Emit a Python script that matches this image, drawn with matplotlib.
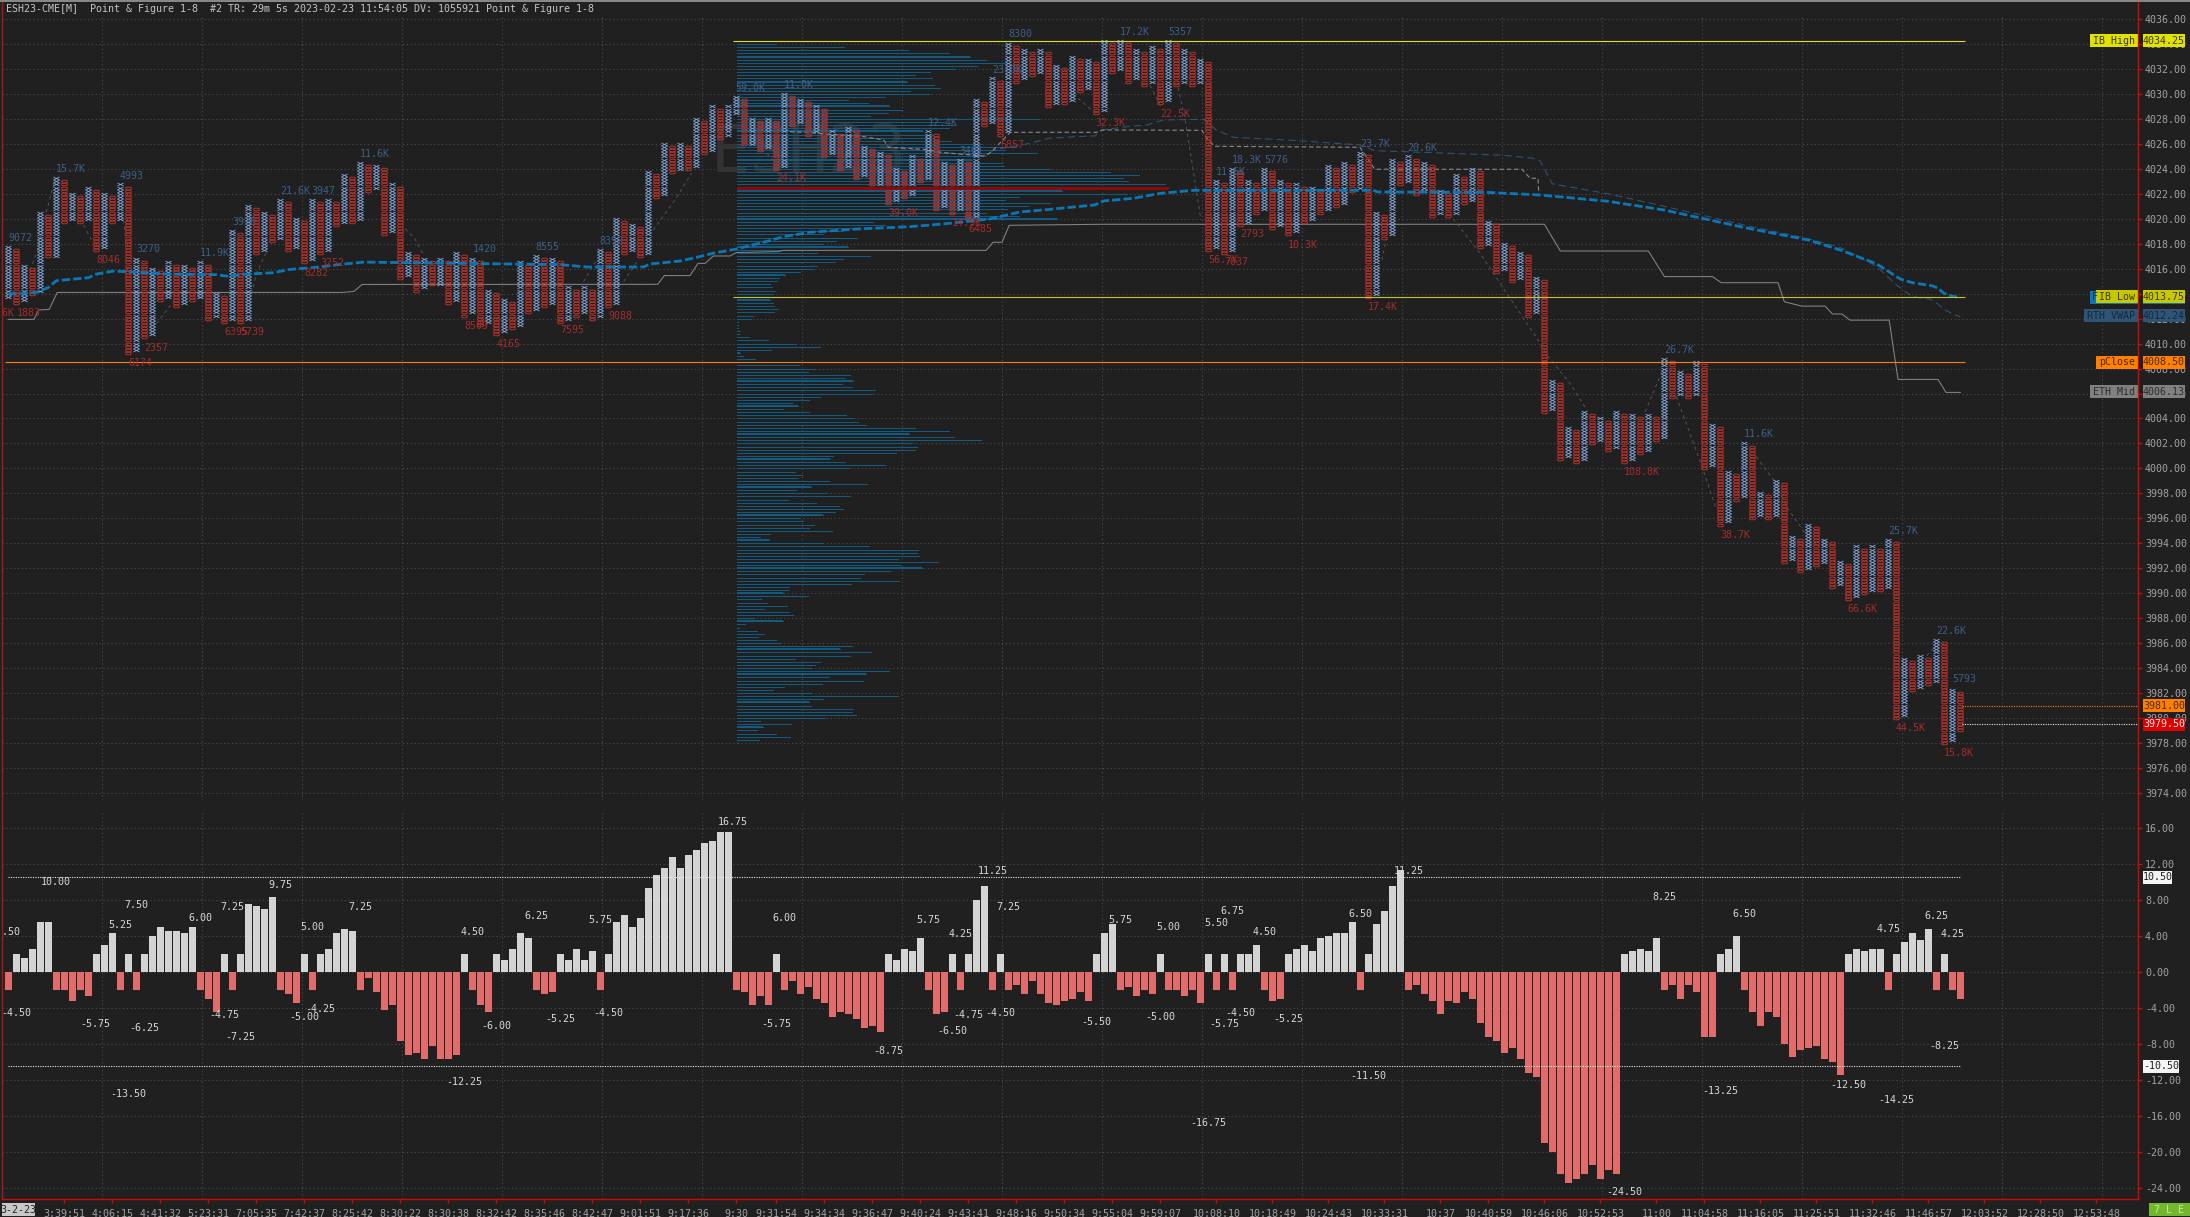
import numpy as np
import matplotlib
matplotlib.use("Agg")
import matplotlib.pyplot as plt
from matplotlib.lines import Line2D
from matplotlib.patches import Rectangle
from matplotlib.path import Path

W, H = 2190, 1217
BG = "#202020"
GRID = "#4c4c4c"
AXIS_RED = "#d00808"

pf_top = [
    4017.75, 4017.5, 4016.25, 4016.0, 4020.5, 4020.25, 4023.25, 4023.0, 4022.0, 4021.75,
    4022.5, 4022.25, 4022.0, 4021.75, 4022.75, 4022.5, 4016.75, 4016.5, 4016.0, 4015.75,
    4016.5, 4016.25, 4016.25, 4016.0, 4016.5, 4016.25, 4014.0, 4013.75, 4019.0, 4018.75,
    4021.0, 4020.75, 4020.5, 4020.25, 4021.5, 4021.25, 4020.0, 4019.75, 4021.5, 4021.25,
    4021.5, 4021.25, 4023.5, 4023.25, 4024.5, 4024.25, 4024.25, 4024.0, 4022.75, 4022.5,
    4017.25, 4017.0, 4016.75, 4016.5, 4016.75, 4016.5, 4017.25, 4017.0, 4016.75, 4016.5,
    4014.25, 4014.0, 4013.5, 4013.25, 4016.5, 4016.25, 4017.0, 4016.75, 4016.75, 4016.5,
    4014.5, 4014.25, 4014.5, 4014.25, 4017.5, 4017.25, 4020.0, 4019.75, 4019.5, 4019.25,
    4023.75, 4023.5, 4026.0, 4025.75, 4026.0, 4025.75, 4028.0, 4027.75, 4029.0, 4028.75,
    4029.0, 4029.75, 4029.5, 4028.0, 4027.75, 4028.0, 4027.75, 4030.0, 4029.75, 4029.5,
    4029.25, 4029.0, 4028.75, 4027.0, 4026.75, 4027.25, 4027.0, 4025.75, 4025.5, 4025.25,
    4025.0, 4024.0, 4023.75, 4025.0, 4024.75, 4027.0, 4026.75, 4024.5, 4024.25, 4024.75,
    4024.5, 4029.5, 4029.25, 4031.25, 4031.0, 4034.0, 4033.75, 4033.5, 4033.25, 4033.5,
    4033.25, 4032.25, 4032.0, 4033.0, 4032.75, 4032.75, 4032.5, 4034.25, 4034.0, 4034.25,
    4034.0, 4033.5, 4033.25, 4033.75, 4033.5, 4034.25, 4034.0, 4033.5, 4033.25, 4032.75,
    4032.5, 4023.0, 4022.75, 4024.0, 4023.75, 4023.0, 4022.75, 4024.0, 4023.75, 4023.0,
    4022.75, 4022.75, 4022.5, 4022.5, 4022.25, 4024.25, 4024.0, 4024.5, 4024.25, 4025.25,
    4025.0, 4020.5, 4020.25, 4024.75, 4024.5, 4025.0, 4024.75, 4024.5, 4024.25, 4022.25,
    4022.0, 4023.5, 4023.25, 4024.0, 4023.75, 4019.75, 4019.5, 4018.0, 4017.75, 4017.25,
    4017.0, 4015.25, 4015.0, 4007.0, 4006.75, 4003.25, 4003.0, 4004.5, 4004.25, 4004.0,
    4003.75, 4004.5, 4004.25, 4004.25, 4004.0, 4004.25, 4004.0, 4008.75, 4008.5, 4007.75,
    4007.5, 4008.5, 4008.25, 4003.5, 4003.25, 3999.75, 3999.5, 4002.0, 4001.75, 3998.0,
    3997.75, 3999.0, 3998.75, 3994.5, 3994.25, 3995.5, 3995.25, 3994.25, 3994.0, 3992.5,
    3992.25, 3993.75, 3993.5, 3993.75, 3993.5, 3994.25, 3994.0, 3984.75, 3984.5, 3985.0,
    3984.75, 3986.25, 3986.0, 3982.25, 3982.0,
]
pf_bottom = [
    4013.75, 4013.25, 4013.5, 4014.0, 4014.25, 4017.0, 4017.0, 4019.75, 4020.0, 4019.75,
    4020.0, 4017.5, 4017.75, 4019.75, 4020.0, 4009.25, 4009.5, 4010.5, 4010.75, 4013.5,
    4013.75, 4013.0, 4013.25, 4013.5, 4013.75, 4012.0, 4012.25, 4011.75, 4012.0, 4011.75,
    4012.0, 4017.25, 4017.5, 4018.25, 4018.5, 4017.5, 4017.75, 4016.5, 4016.75, 4017.25,
    4017.5, 4019.5, 4019.75, 4019.75, 4020.0, 4022.25, 4022.5, 4018.75, 4019.0, 4015.25,
    4015.5, 4014.25, 4014.5, 4014.75, 4014.75, 4013.25, 4013.5, 4012.25, 4012.5, 4011.5,
    4011.75, 4010.75, 4011.0, 4011.25, 4011.5, 4012.5, 4012.75, 4013.0, 4013.25, 4011.75,
    4012.0, 4012.25, 4012.5, 4012.0, 4012.25, 4013.0, 4013.25, 4017.25, 4017.5, 4017.0,
    4017.25, 4021.75, 4022.0, 4023.75, 4024.0, 4024.0, 4024.25, 4025.25, 4025.5, 4026.5,
    4026.75, 4028.5, 4026.0, 4026.0, 4025.5, 4025.75, 4024.0, 4024.25, 4027.5, 4027.75,
    4026.75, 4027.0, 4025.0, 4025.25, 4024.0, 4024.25, 4023.25, 4023.5, 4022.5, 4022.75,
    4021.25, 4021.5, 4021.75, 4022.0, 4023.0, 4023.25, 4020.75, 4021.0, 4020.5, 4020.75,
    4020.0, 4020.25, 4027.5, 4027.75, 4026.75, 4027.0, 4031.0, 4031.25, 4031.5, 4031.75,
    4029.0, 4029.25, 4029.25, 4029.5, 4030.25, 4030.5, 4028.5, 4028.75, 4031.75, 4032.0,
    4031.0, 4031.25, 4030.75, 4031.0, 4029.25, 4029.5, 4030.75, 4031.0, 4030.75, 4031.0,
    4017.5, 4017.75, 4017.25, 4017.5, 4019.5, 4019.75, 4020.5, 4020.75, 4019.25, 4019.5,
    4018.75, 4019.0, 4019.75, 4020.0, 4020.5, 4020.75, 4021.0, 4021.25, 4022.25, 4022.5,
    4013.75, 4014.0, 4018.5, 4018.75, 4022.75, 4023.0, 4022.0, 4022.25, 4020.25, 4020.5,
    4020.25, 4020.5, 4021.25, 4021.5, 4017.75, 4018.0, 4015.75, 4016.0, 4015.0, 4015.25,
    4012.25, 4012.5, 4004.5, 4004.75, 4000.75, 4001.0, 4000.5, 4000.75, 4002.0, 4002.25,
    4001.5, 4001.75, 4000.5, 4000.75, 4001.25, 4001.5, 4002.25, 4002.5, 4005.75, 4006.0,
    4005.75, 4006.0, 4000.0, 4000.25, 3995.5, 3995.75, 3997.5, 3997.75, 3996.0, 3996.25,
    3996.0, 3996.25, 3992.5, 3992.75, 3991.75, 3992.0, 3992.25, 3992.5, 3990.5, 3990.75,
    3989.5, 3989.75, 3990.0, 3990.25, 3990.25, 3990.5, 3980.0, 3980.25, 3982.25, 3982.5,
    3982.75, 3983.0, 3978.0, 3978.25, 3979.0,
]

osc_values = [
    -2, 2, 1.5, 2.5, 5.5, 5.5, -2, -2, -3.25, -2, -2.75, 2, 3, 4.25, -2, 2, -2, 2, 4, 5,
    4.5, 4.5, 4.25, 5, -2, -3, -4.5, 2, -2, 2, 7.5, 7.25, 7, 8.25, -2, -2.5, -3.5, 2, -2, 2,
    2.5, 4.25, 4.75, 4.5, -2, -0.75, -2.25, -4.25, -3.75, -7.75, -9.25, -9, -9.75, -8.25, -9.75, -9.75, -9.25, 2, -2, -3.75,
    -4.5, 2, 1.25, 2.5, 4.25, 3.75, -2, -2.5, -2.25, 2, 1.25, 2.5, 1.25, 2.25, -2, 2, 5.5, 6.25, 5, 6,
    9.25, 10.75, 11.5, 12.75, 11.5, 13, 13.5, 14.25, 14.5, 15.5, 15.5, -2, -2.25, -3.75, -2.75, -3.75, 2, -2, -1, -2.5,
    -1.75, -3, -3.5, -5, -4.5, -4.75, -5.25, -6.25, -6, -6.75, 2, 1.25, 2.5, 2.25, 3.75, -2, -4.75, -4.5, 2, -2,
    2, 8, 9.5, -2, 2, -2, -1.5, -2.5, -1, -2.5, -3.5, -3.75, -3.25, -3, -2.25, -3.25, 2, 4.25, 5.25, -2,
    -1.75, -2.75, -2, -2.5, 2, -2, -2, -2.75, -2, -3.5, 2, -2, 2, -2, 2, 2, 3, -2, -3.25, -3,
    2, 2.5, 3, 2.25, 3.75, 4, 4.25, 4.25, 5.5, -2, 2, 5.25, 6.75, 9.5, 11.25, -2, -1.5, -2.5, -3.25, -4.75,
    -3.25, -3.5, -2.25, -3, -5.75, -7.25, -7.75, -9, -8.5, -9.75, -11.25, -11.75, -19, -20, -22.5, -23.5, -23, -22.5, -21.5, -23,
    -22, -22.5, 2, 2.25, 2.5, 2.25, 3.75, -2, -1.5, -3, -1.5, -2.25, -7.25, -7.25, 2, 2.5, 4, -2, -4.5, -6,
    -4.5, -5, -8, -9.5, -8.75, -8.5, -8.25, -9.75, -10, -11.5, 2, 2.5, 2.25, 2.5, 2.5, -2, 2, 3.25, 4.25, 3.5,
    4.75, -2, 2, -2, -3,
]
osc_limit = 10.5

osc_label_text = [
    "4.50", "-4.50", "10.00", "-5.75", "5.25", "7.50", "-6.25", "-13.50", "6.00", "7.25",
    "-4.75", "-7.25", "9.75", "5.00", "-5.00", "-4.25", "7.25", "4.50", "-6.00", "-12.25",
    "6.25", "-5.25", "5.75", "-4.50", "16.75", "6.00", "-5.75", "-8.75", "5.75", "4.25",
    "-6.50", "11.25", "-4.75", "-4.50", "7.25", "5.75", "-5.50", "5.00", "-5.00", "5.50",
    "-5.75", "6.75", "-4.50", "4.50", "-5.25", "-16.75", "6.50", "-11.50", "11.25", "8.25",
    "-24.50", "6.50", "-13.25", "-12.50", "4.75", "-14.25", "6.25", "4.25", "-8.25",
]
osc_label_col = [
    0, 1, 5.9, 10.9, 14, 16, 17, 15, 24, 28,
    27, 29, 34, 38, 37, 39, 44, 58, 61, 57,
    66, 69, 74, 75, 90.6, 97, 96, 110, 115, 119,
    118, 123, 120, 124, 125, 139, 136, 145, 144, 151,
    152, 153, 154, 157, 160, 150, 169, 170, 175, 207,
    202, 217, 214, 230, 235, 236, 241, 243, 242,
]
osc_label_level = [
    4.44, -4.56, 10, -5.78, 5.22, 7.44, -6.22, -13.56, 6, 7.22,
    -4.78, -7.22, 9.67, 5, -5.04, -4.19, 7.22, 4.44, -6, -12.22,
    6.22, -5.22, 5.78, -4.56, 16.67, 6, -5.78, -8.78, 5.78, 4.22,
    -6.56, 11.22, -4.78, -4.56, 7.22, 5.78, -5.56, 5, -5, 5.44,
    -5.78, 6.78, -4.56, 4.44, -5.22, -16.78, 6.44, -11.56, 11.22, 8.26,
    -24.44, 6.44, -13.22, -12.56, 4.78, -14.22, 6.22, 4.22, -8.22,
]

blue_label_text = [
    "9072", "15.7K", "4993", "3270", "11.9K", "3926", "21.6K", "3947", "11.6K", "1420",
    "8555", "8392", "59.0K", "11.0K", "12.4K", "3401", "23.0K", "8300", "17.2K", "5357",
    "11.6K", "18.3K", "5776", "23.7K", "20.6K", "26.7K", "11.6K", "25.7K", "22.6K", "5793",
]
blue_label_col = [
    1.46, 7.8, 15.4, 17.5, 25.8, 29.5, 35.8, 39.4, 45.8, 59.5,
    67.4, 75.4, 92.8, 98.8, 116.8, 120.4, 124.8, 126.45, 140.8, 146.45,
    152.8, 154.8, 158.45, 170.8, 176.75, 208.8, 218.8, 236.8, 242.8, 244.45,
]
blue_label_price = [
    4018.48, 4024.0, 4023.45, 4017.55, 4017.28, 4019.76, 4022.25, 4022.25, 4025.2, 4017.55,
    4017.77, 4018.25, 4030.51, 4030.72, 4027.68, 4025.43, 4031.92, 4034.78, 4034.97, 4034.97,
    4023.78, 4024.74, 4024.74, 4026.02, 4025.7, 4009.52, 4002.79, 3995.01, 3987.0, 3983.1,
]
red_label_text = [
    "26.6K", "1883", "8046", "2357", "6174", "6395", "5739", "8282", "3252", "8509",
    "4165", "7595", "9088", "24.1K", "39.0K", "14.9K", "6485", "5857", "32.3K", "22.5K",
    "56.7K", "7037", "2793", "10.3K", "17.4K", "108.8K", "38.7K", "66.6K", "44.5K", "15.8K",
]
red_label_col = [
    -1.15, 2.5, 12.5, 18.5, 16.5, 28.5, 30.5, 38.5, 40.5, 58.5,
    62.5, 70.5, 76.45, 97.8, 111.9, 119.8, 121.45, 125.5, 137.8, 145.9,
    151.9, 153.45, 155.5, 161.8, 171.8, 204.2, 215.9, 231.8, 237.8, 243.8,
]
red_label_price = [
    4012.47, 4012.47, 4016.72, 4009.67, 4008.47, 4010.95, 4010.95, 4015.68, 4016.48, 4011.43,
    4009.99, 4011.1, 4012.24, 4023.24, 4020.44, 4019.69, 4019.21, 4025.94, 4027.68, 4028.43,
    4016.73, 4016.51, 4018.76, 4017.93, 4012.96, 3999.74, 3994.69, 3988.76, 3979.23, 3977.23,
]

mid_col = [
    0, 3.2, 3.75, 5.1, 6.1, 41.7, 43.2, 44.2, 81.16, 82, 85.2, 86.2, 87.1, 88.1, 90.2, 91, 96.2, 96.9,
    122.2, 123.1, 124.2, 125.1, 136.6, 191.2, 192, 194, 205, 207, 213, 214.1, 221.2, 222, 224.2, 227.1,
    228, 229.2, 230.2, 235.1, 236.2, 241.2, 242.2, 244,
]
mid_price = [
    4011.94, 4011.94, 4012.69, 4012.74, 4014.1, 4014.1, 4014.18, 4014.74, 4014.75, 4015.45, 4015.45, 4016.43,
    4016.43, 4017.02, 4017.02, 4017.3, 4017.37, 4017.47, 4017.47, 4018.12, 4018.12, 4019.48, 4019.56, 4019.56,
    4019.56, 4017.42, 4017.42, 4015.37, 4015.37, 4014.88, 4014.88, 4013.35, 4013.0, 4013.0, 4012.37, 4012.37,
    4011.88, 4011.88, 4007.13, 4007.13, 4006.09, 4006.09,
]

vwap_col = [
    0, 3.5, 5, 6, 10, 11, 13.1, 15, 19.8, 26, 27.3, 30, 33.1, 35.2, 37.9, 41.9, 44.4, 64, 69, 72.3, 79.4,
    80.2, 84, 86, 88.1, 91, 94.4, 96.9, 100.2, 106, 112.7, 116.9, 122.7, 126.45, 129.4, 135.8, 136.9, 140.6,
    144, 148.1, 170.6, 171.2, 184.8, 191.4, 200, 207, 217, 225, 229, 233.5, 236.5, 238, 240.4, 241.2, 241.9,
    242.7, 244,
]
vwap_price = [
    4013.97, 4014.1, 4014.5, 4015.04, 4015.28, 4015.57, 4015.81, 4015.76, 4015.57, 4015.52, 4015.41, 4015.57,
    4015.68, 4015.95, 4016.08, 4016.37, 4016.53, 4016.37, 4016.33, 4016.14, 4016.14, 4016.38, 4016.62, 4016.91,
    4017.24, 4017.58, 4018.12, 4018.57, 4018.92, 4019.18, 4019.37, 4019.59, 4019.99, 4020.55, 4020.71, 4021.11,
    4021.43, 4021.64, 4022.04, 4022.28, 4022.28, 4022.15, 4022.12, 4021.91, 4021.4, 4020.7, 4019.3, 4018.3,
    4017.5, 4016.4, 4015.17, 4014.88, 4014.64, 4014.45, 4014.05, 4013.84, 4013.68,
]

rth_col = [
    110, 116.9, 122.3, 123.1, 127.7, 130, 133.3, 135.8, 136.7, 139.8, 142.3, 144.4, 149.4, 151, 153.1, 159.8,
    168.95, 170.8, 174.4, 186.9, 190.6, 191.45, 193, 200, 207, 217, 225, 229, 233.5, 236, 237.7, 238.9, 240.2,
    241.2, 241.9, 243, 244,
]
rth_price = [
    4025.73, 4025.3, 4025.03, 4025.51, 4026.05, 4026.45, 4026.58, 4026.64, 4027.12, 4027.38, 4027.52, 4027.92,
    4027.97, 4027.12, 4026.53, 4026.32, 4025.92, 4025.46, 4025.38, 4025.09, 4024.85, 4024.66, 4022.8, 4022.0,
    4021.0, 4019.5, 4018.4, 4017.7, 4016.2, 4014.7, 4013.9, 4013.65, 4013.57, 4013.17, 4012.77, 4012.37, 4012.15,
]

grey_dash_col = [
    97.7, 99.4, 106.9, 109.4, 110, 114.4, 116.9, 121.9, 122.5, 123.1, 124.8, 125.2, 136, 136.7, 149.2, 149.8,
    150.8, 168.95, 170.8, 189.2, 190.2, 191.2, 191.3,
]
grey_dash_price = [
    4026.98, 4026.93, 4026.58, 4026.32, 4025.73, 4025.57, 4025.3, 4025.03, 4025.19, 4025.51, 4026.64, 4026.93,
    4026.93, 4027.12, 4027.09, 4026.45, 4025.81, 4025.73, 4023.97, 4023.97, 4023.25, 4023.25, 4022.04,
]

pivot_col = [
    2.7, 3.5, 4.8, 5.8, np.nan, 9.4, 10.4, np.nan, 14.4, 14.7, np.nan, 18.5, 20.6, np.nan, 30.4, 31, 32.3, np.nan,
    49.6, 50.8, 51.9, np.nan, 71.9, 73.5, np.nan, 76.9, 78.7, np.nan, 80.6, 83.3, 85.4, np.nan, 94.8, 95.6, np.nan,
    133.7, 135.6, np.nan, 142.7, 144, np.nan, 146.2, 147.1, 148.1, 149, np.nan, 171.7, 172.3, np.nan,
    180.6, 184, 186.5, 191.2, 192.3, 195.2, 197.3, np.nan, 204.6, 206.7, np.nan, 208.5, 211.7, 213.5, np.nan,
    218.5, 220.6, 222.5, 224.6, np.nan, 239.8, 240.8,
]
pivot_price = [
    4015.89, 4017.2, 4020.7, 4023.1, np.nan, 4019.5, 4018.3, np.nan, 4019.9, 4018.0, np.nan, 4011.6, 4013.35, np.nan,
    4014.0, 4015.6, 4017.4, np.nan, 4019.2, 4018.4, 4017.1, np.nan, 4014.97, 4016.7, np.nan, 4014.97, 4016.7, np.nan,
    4019.1, 4021.5, 4023.65, np.nan, 4025.25, 4024.7, np.nan, 4029.65, 4028.6, np.nan, 4030.7, 4029.1, np.nan,
    4030.5, 4027.9, 4023.9, 4020.2, np.nan, 4016.7, 4018.6, np.nan, 4020.0, 4017.2, 4014.8, 4010.3, 4009.1, 4006.8,
    4004.7, np.nan, 4004.55, 4007.75, np.nan, 4005.75, 4000.15, 3996.7, np.nan, 4000.95, 3999.1, 3996.7, 3994.8,
    np.nan, 3985.0, 3985.7,
]

profile_top = 4034.0
profile_volume = [
    115, 321, 514, 636, 698, 746, 803, 719, 654, 580, 534, 585, 510, 590, 610, 520, 576, 444, 332, 393,
    457, 496, 453, 398, 907, 624, 650, 636, 559, 587, 590, 643, 733, 838, 803, 900, 733, 705, 796, 802,
    939, 1118, 1207, 1159, 1173, 1285, 1292, 975, 1171, 845, 803, 939, 873, 810, 747, 845, 960, 408, 444, 370,
    314, 258, 360, 298, 258, 332, 133, 240, 400, 318, 293, 240, 228, 189, 144, 126,
    120, 99, 105, 114, 108, 105, 99, 108, 111, 123, 111, 48, 42, 3, 3, 3, 9, 6, 36, 93,
    174, 249, 102, 9, 18, 54, 39, 186, 231, 213, 339, 324, 348, 315, 345, 414, 405, 249, 216, 165,
    183, 138, 216, 327, 351, 363, 387, 534, 636, 516, 651, 732, 522, 540, 534, 476, 288, 279, 324, 444,
    336, 174, 195, 183, 276, 390, 222, 177, 270, 339, 153, 237, 306, 318, 294, 258, 189, 198, 231, 216,
    285, 99, 69, 96, 255, 396, 543, 540, 546, 483, 603, 492, 555, 459, 381, 369, 486, 342, 156, 156,
    138, 213, 72, 90, 150, 81, 156, 168, 51, 138, 24, 6, 60, 81, 63, 117, 129, 345, 309, 402,
    339, 174, 249, 234, 222, 456, 387, 276, 378, 255, 141, 108, 225, 483, 258, 216, 222, 348, 345, 357,
    264, 69, 162, 78, 60, 117, 159, 66, 3,
]
profile_thick = [
    4033.0, 4031.0, 4029.0, 4027.0, 4024.75, 4022.25, 4020.0, 4017.75, 4015.5, 4013.5, 4009.25, 4007.0, 4005.0,
    4002.75, 4000.75, 3998.5, 3996.25, 3994.25, 3992.0, 3990.0, 3987.75, 3985.5, 3983.5, 3981.25, 3979.25,
]
poc_price = 4022.5
poc_volume = 1292

time_cols = [
    7, 13, 19, 25, 31, 37, 43, 49, 55, 61, 67, 73, 79, 85, 91, 96, 102, 108, 114, 120, 126, 132, 138, 144,
    151, 158, 165, 172, 179, 185, 192, 199, 206, 212, 219, 226, 233, 240, 247, 254, 261,
]
time_labels = [
    "3:39:51", "4:06:15", "4:41:32", "5:23:31", "7:05:35", "7:42:37", "8:25:42", "8:30:22", "8:30:38", "8:32:42",
    "8:35:46", "8:42:47", "9:01:51", "9:17:36", "9:30", "9:31:54", "9:34:34", "9:36:47", "9:40:24", "9:43:41",
    "9:48:16", "9:50:34", "9:55:04", "9:59:07", "10:08:10", "10:18:49", "10:24:43", "10:33:31", "10:37", "10:40:59",
    "10:46:06", "10:52:53", "11:00", "11:04:58", "11:16:05", "11:25:51", "11:32:46", "11:46:57", "12:03:52",
    "12:28:50", "12:53:48",
]
title_text = "ESH23-CME[M]  Point & Figure 1-8  #2 TR: 29m 5s 2023-02-23 11:54:05 DV: 1055921 Point & Figure 1-8"

plt.rcParams["font.family"] = "DejaVu Sans Mono"
plt.rcParams["font.size"] = 7.2


def fig_x(px):
    return px / W


def fig_y(px):
    return 1 - px / H


def col_at(px):
    return (px - 8.4) / 8


def draw_tag(ax, value, text, fill, ink, box_px, per_unit, label_px=None, text_px=None):
    # value box right of the axis, optional name box left of it
    span = ax.get_window_extent().width / (fig.dpi / 100)
    tr = ax.get_yaxis_transform()
    half = 6.5 / per_unit
    ax.add_patch(Rectangle((1 + 5 / span, value - half), box_px / span, 2 * half, transform=tr,
                           color=fill, clip_on=False, zorder=10, lw=0))
    ax.text(1 + (5 + box_px / 2) / span, value, text, transform=tr, color=ink, ha="center",
            va="center", clip_on=False, zorder=11)
    if label_px is not None:
        ax.add_patch(Rectangle((1 - label_px / span, value - half), label_px / span, 2 * half, transform=tr,
                               color=fill, clip_on=False, zorder=10, lw=0))
        ax.text(1 - 3 / span, value, text_px, transform=tr, color=ink, ha="right", va="center",
                clip_on=False, zorder=11)


fig = plt.figure(figsize=(W / 100, H / 100), dpi=100, facecolor=BG)
ax = fig.add_axes([fig_x(2), fig_y(800), 2136 / W, 785 / H], facecolor=BG)
osc = fig.add_axes([fig_x(2), fig_y(1199), 2136 / W, 386 / H], facecolor=BG)

grid_cols = [col_at(px) for px in range(102, 2103, 100)]
for a in (ax, osc):
    a.set_xlim(col_at(2), col_at(2138))
    for side in a.spines:
        a.spines[side].set_visible(False)
    a.set_axisbelow(True)
    a.yaxis.tick_right()
    a.tick_params(axis="y", length=3, width=1, color=AXIS_RED, labelcolor="#a2a2a2", pad=2, labelsize=7.2)
    a.set_xticks(grid_cols, minor=True)
    a.tick_params(axis="x", which="minor", length=0)
    a.grid(True, which="minor", axis="x", color=GRID, lw=0.8, linestyle=(0, (1, 2.5)))
    a.grid(True, which="major", axis="y", color=GRID, lw=0.8, linestyle=(0, (1, 2.5)))

# price panel
ax.set_ylim(3973.43, 4036.33)
ax.set_yticks(np.arange(3974, 4037, 2))
ax.set_yticklabels(["%.2f" % v for v in np.arange(3974, 4037, 2)])
ax.set_xticks([])

ax.text(100, 4025.2, "ESH23", fontsize=47, color="#333333", ha="center", va="center", zorder=0.8)

levels = profile_top - 0.25 * np.arange(len(profile_volume))
start_col = col_at(737)
ax.hlines(levels, start_col, start_col + np.array(profile_volume) / 24, color="#125a80", lw=0.72, zorder=1.5,
          antialiased=False)
thick = [v in profile_thick for v in levels]
ax.hlines(levels[thick], start_col, start_col + np.array(profile_volume)[thick] / 24, color="#125a80", lw=1.44,
          zorder=1.5, antialiased=False)

ax.plot(mid_col, mid_price, color="#858585", lw=0.75, zorder=2)
ax.plot(pivot_col, pivot_price, color="#5a5a5a", lw=0.6, linestyle=(0, (4, 4)), zorder=2)
ax.plot(rth_col, rth_price, color="#2f5478", lw=0.75, linestyle=(0, (7, 4)), zorder=2)
ax.plot(grey_dash_col, grey_dash_price, color="#8a8a8a", lw=0.8, linestyle=(0, (4, 2.5)), zorder=2)

x_mark = Path([(-3.3, -1.56), (3.3, 1.56), (-3.3, 1.56), (3.3, -1.56)],
              [Path.MOVETO, Path.LINETO, Path.MOVETO, Path.LINETO])
o_mark = Path([(-3.3, -0.8), (-2, -1.5), (2, -1.5), (3.3, -0.8), (3.3, 0.8), (2, 1.5), (-2, 1.5), (-3.3, 0.8),
               (-3.3, -0.8)], closed=True)
xs, ys, os_, oy = [], [], [], []
for i, (top, bottom) in enumerate(zip(pf_top, pf_bottom)):
    boxes = np.arange(bottom, top + 0.01, 0.25)
    # the column order flips at the 9:30 session start
    is_x = i % 2 == 0 if i <= 90 else i % 2 == 1
    if is_x:
        xs.extend([i] * len(boxes))
        ys.extend(boxes)
    else:
        os_.extend([i] * len(boxes))
        oy.extend(boxes)
ax.plot(xs, ys, linestyle="none", marker=x_mark, ms=4.4, mfc="none", mec="#7fa4d8", mew=0.6, zorder=3)
ax.plot(os_, oy, linestyle="none", marker=o_mark, ms=4.0, mfc="none", mec="#b8322a", mew=0.7, zorder=3)

ax.hlines(poc_price, start_col, start_col + poc_volume / 24, color="#8e0a0a", lw=2.2, zorder=3.5)
ax.plot(vwap_col, vwap_price, color="#0a78b8", lw=2.0, linestyle=(0, (3, 1.1)), zorder=4)

ib_from, ib_to = col_at(733), col_at(1965)
ax.hlines(4034.25, ib_from, ib_to, color="#dede20", lw=0.8, zorder=5)
ax.hlines(4013.75, ib_from, ib_to, color="#c4c420", lw=0.8, zorder=5)
ax.hlines(4008.5, col_at(5), ib_to, color="#ff8000", lw=0.8, zorder=5)
ax.hlines(3981.0, 244.2, col_at(2138), color="#ff8000", lw=0.8, linestyle=(0, (1, 1.2)), zorder=5)
ax.hlines(3979.5, 244.2, col_at(2138), color="#e8e8e8", lw=0.8, linestyle=(0, (1, 1.2)), zorder=5)

for text, col, price in zip(blue_label_text, blue_label_col, blue_label_price):
    ax.text(col, price, text, color="#3d5f88", ha="center", va="center", zorder=6, clip_on=True)
for text, col, price in zip(red_label_text, red_label_col, red_label_price):
    ax.text(col, price, text, color="#a52c2c", ha="center", va="center", zorder=6, clip_on=True)

draw_tag(ax, 4034.25, "4034.25", "#e2e200", "#3a3a00", 42, 12.48, 48, "IB High")
draw_tag(ax, 4013.68, "", "#0a78b8", "#1a1a1a", 42, 12.48, 48, "")
ax.text(1 - 46 / 2136, 4013.75, "F", transform=ax.get_yaxis_transform(), color="#123044", ha="left", va="center",
        clip_on=False, zorder=11)
draw_tag(ax, 4013.75, "4013.75", "#c8c800", "#3a3a00", 42, 12.48, 42, "IB Low")
draw_tag(ax, 4012.24, "4012.24", "#2f5478", "#16283a", 42, 12.48, 54, "RTH VWAP")
draw_tag(ax, 4008.5, "4008.50", "#ff8000", "#4a2800", 42, 12.48, 42, "pClose")
draw_tag(ax, 4006.13, "4006.13", "#808080", "#2c2c2c", 42, 12.48, 48, "ETH Mid")
draw_tag(ax, 3981.0, "3981.00", "#ff8000", "#4a2800", 42, 12.48)
draw_tag(ax, 3979.5, "3979.50", "#e00000", "#f4f4f4", 42, 12.48)

# oscillator panel
osc.set_ylim(-25.25, 17.63)
osc.set_yticks(np.arange(-24, 17, 4))
osc.set_yticklabels(["%.2f" % v for v in np.arange(-24, 17, 4)])
cols = np.arange(len(osc_values))
bar_colors = ["#d4d4d4" if v > 0 else "#e06c6c" for v in osc_values]
osc.bar(cols, osc_values, width=0.875, color=bar_colors, lw=0, zorder=2)
osc.hlines([osc_limit, -osc_limit], 0, 244, color="#e8e8e8", lw=0.8, linestyle=(0, (1, 1.2)), zorder=3)
for text, col, level in zip(osc_label_text, osc_label_col, osc_label_level):
    osc.text(col, level, text, color="#d8d8d8", ha="center", va="center", zorder=6, clip_on=True)
draw_tag(osc, osc_limit, "10.50", "#f4f4f4", "#202020", 29, 9)
draw_tag(osc, -osc_limit, "-10.50", "#f4f4f4", "#202020", 36, 9)

osc.set_xticks(time_cols, time_labels)
osc.tick_params(axis="x", which="major", length=3, width=1, color=AXIS_RED, labelcolor="#a2a2a2", pad=4,
                labelsize=7.2)

# window frame and corner items
fig.add_artist(Line2D([0, 1], [fig_y(1), fig_y(1)], color="#8a8a8a", lw=1.4))
fig.add_artist(Line2D([fig_x(1.5), fig_x(1.5)], [fig_y(2), fig_y(1199)], color="#a81818", lw=1.0))
fig.add_artist(Line2D([fig_x(2138.3), fig_x(2138.3)], [fig_y(2), fig_y(1199)], color=AXIS_RED, lw=1.0))
fig.add_artist(Line2D([fig_x(2), fig_x(2138.3)], [fig_y(1199), fig_y(1199)], color=AXIS_RED, lw=1.0))
fig.text(fig_x(6), fig_y(8.5), title_text, color="#c4c4c4", ha="left", va="center")

fig.add_artist(Rectangle((fig_x(2), fig_y(1216)), 33 / W, 13 / H, transform=fig.transFigure, color="#c8c8c8", lw=0))
fig.text(fig_x(18), fig_y(1209.7), "3-2-23", color="#222222", ha="center", va="center")
fig.add_artist(Rectangle((fig_x(2149), fig_y(1216)), 41 / W, 13 / H, transform=fig.transFigure, color="#72b82a", lw=0))
fig.text(fig_x(2169.5), fig_y(1209.7), "7 L E", color="#c8e8a0", ha="center", va="center")

fig.savefig("out.png", dpi=100, facecolor=BG)
